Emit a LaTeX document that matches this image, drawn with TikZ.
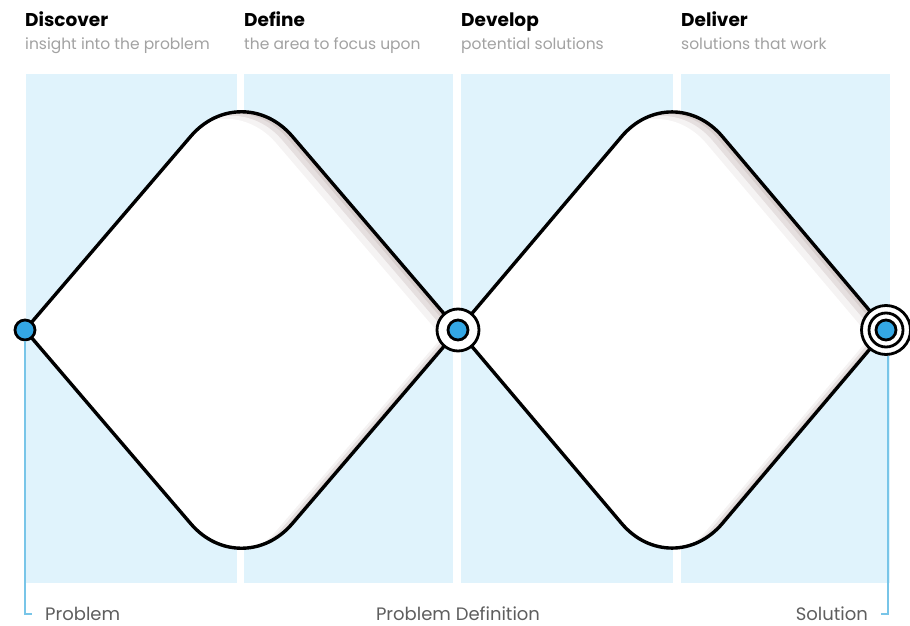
\documentclass[tikz,border=0pt]{standalone}
\usepackage{fontspec}
\setmainfont{Poppins}
\usetikzlibrary{calc}
\definecolor{panelblue}{HTML}{E0F3FC}
\definecolor{dotblue}{HTML}{34A7E4}
\definecolor{lineblue}{HTML}{78C5E8}
\definecolor{subgray}{HTML}{A2A2A2}
\definecolor{footgray}{HTML}{5E5E5E}
\definecolor{shadowgray}{HTML}{D8CFCE}
% one diamond: left x, middle x, right x (y is fixed)
\newcommand\dpath[3]{(#1,330) -- ($(#2,77)!78pt!(#1,330)$) .. controls ($(#2,77)!35pt!(#1,330)$) and ($(#2,77)!35pt!(#3,330)$) .. ($(#2,77)!78pt!(#3,330)$) -- (#3,330) -- ($(#2,583)!78pt!(#3,330)$) .. controls ($(#2,583)!35pt!(#3,330)$) and ($(#2,583)!35pt!(#1,330)$) .. ($(#2,583)!78pt!(#1,330)$) -- cycle}
\tikzset{
  panel/.style={fill=panelblue,draw=none},
  dmd/.style={draw=black,line width=3.4pt,line join=round},
  dot/.style={circle,fill=dotblue,draw=black,line width=2.8pt,minimum size=20pt,inner sep=0pt},
  ring/.style={circle,fill=white,draw=black,line width=2.8pt,inner sep=0pt},
  phase/.style={anchor=base west,inner sep=0pt,font=\bfseries\fontsize{18.5}{21}\selectfont},
  phasesub/.style={anchor=base west,inner sep=0pt,text=subgray,font=\fontsize{15.5}{18}\selectfont},
  foot/.style={anchor=base,inner sep=0pt,text=footgray,font=\fontsize{18}{21}\selectfont},
  lead/.style={draw=lineblue,line width=1.6pt}
}
\begin{document}
\begin{tikzpicture}[x=1pt,y=-1pt]
\useasboundingbox[fill=white] (0,0) rectangle (910,626);
% background panels
\fill[panel] (26,74) rectangle (237,583);
\fill[panel] (244,74) rectangle (453,583);
\fill[panel] (461,74) rectangle (673,583);
\fill[panel] (681,74) rectangle (890,583);
% diamonds with a soft shadow on the right
\foreach \xl/\xm/\xr in {25/241.5/458, 458/672/886}{
  \begin{scope}
    \clip \dpath{\xl}{\xm}{\xr};
    \fill[shadowgray] \dpath{\xl}{\xm}{\xr};
    \fill[white,opacity=.35,shift={(-5,2)}] \dpath{\xl}{\xm}{\xr};
    \fill[white,opacity=.65,shift={(-10,4)}] \dpath{\xl}{\xm}{\xr};
    \fill[white,shift={(-16,7)}] \dpath{\xl}{\xm}{\xr};
  \end{scope}
  \draw[dmd] \dpath{\xl}{\xm}{\xr};
}
% markers
\node[dot] (start) at (25,330) {};
\node[ring,minimum size=42pt] (midring) at (458,330) {};
\node[dot] (mid) at (458,330) {};
\node[ring,minimum size=49pt] (endouter) at (886,330) {};
\node[ring,minimum size=34pt] (endinner) at (886,330) {};
\node[dot] (end) at (886,330) {};
% leads to the labels
\coordinate (pfoot) at (25,614);
\coordinate (sfoot) at (888,614);
\draw[lead] (start) -- (pfoot) -- ++(7,0);
\draw[lead] (endouter.south -| sfoot) -- (sfoot) -- ++(-7,0);
% headings
\node[phase] (discover) at (25,27) {Discover};
\node[phasesub] (discoversub) at (25,50) {insight into the problem};
\node[phase] (define) at (244,27) {Define};
\node[phasesub] (definesub) at (244,50) {the area to focus upon};
\node[phase] (develop) at (461,27) {Develop};
\node[phasesub] (developsub) at (461,50) {potential solutions};
\node[phase] (deliver) at (681,27) {Deliver};
\node[phasesub] (deliversub) at (681,50) {solutions that work};
% bottom labels
\node[foot,anchor=base west] (problem) at (45,620) {Problem};
\node[foot] (definition) at (458,620) {Problem Definition};
\node[foot,anchor=base east] (solution) at (868,620) {Solution};
\end{tikzpicture}
\end{document}
